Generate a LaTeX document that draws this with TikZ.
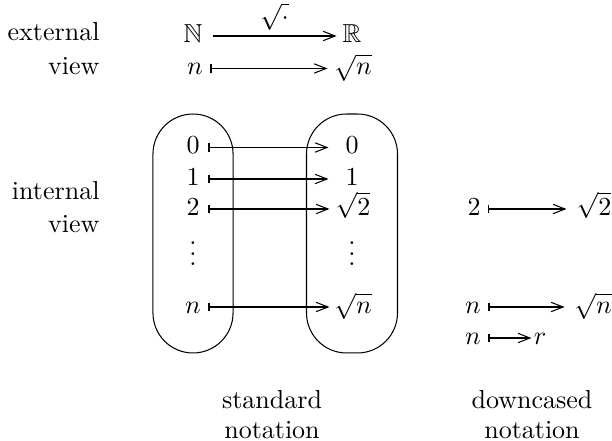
\documentclass[tikz,border=0pt]{standalone}
\usepackage{amssymb}
\usetikzlibrary{arrows.meta}
\begin{document}
\begin{tikzpicture}[x=0.3846pt,y=-0.3846pt,
  tip/.tip={Straight Barb[length=4.6pt,width=3.6pt]},
  mn/.style={inner sep=0pt,text height=7pt,text depth=2pt},
  lft/.style={mn,minimum width=11.5pt},
  rgt/.style={mn,minimum width=17.7pt},
  lbl/.style={inner sep=0pt},
  bubble/.style={draw,rounded corners=15.4pt,inner sep=0pt},
  fn/.style={-tip},
  mp/.style={{Bar[width=3.4pt]}-tip}]
\useasboundingbox (0,0) rectangle (612,441);
% left labels
\node[lbl,anchor=base east] (ext1) at (100,41) {external};
\node[lbl,anchor=base east] (ext2) at (100,74.5) {view};
\node[lbl,anchor=base east] (int1) at (100,200) {internal};
\node[lbl,anchor=base east] (int2) at (100,233) {view};
% external view
\node[mn,minimum width=14.6pt] (N) at (193,36) {$\mathbb{N}$};
\node[mn,minimum width=11.5pt] (R) at (352,36) {$\mathbb{R}$};
\draw[fn] (N.east) -- node[above=2pt,inner sep=0pt] (sq) {$\sqrt{\cdot}$} (R.west);
\node[mn,minimum width=11.5pt] (en) at (195,68.5) {$n$};
\node[mn,minimum width=19.2pt] (esn) at (353,68.5) {$\sqrt{n}$};
\draw[mp] (en.east) -- (esn.west);
% bubbles
\node[bubble,minimum width=30.8pt,minimum height=91.9pt] (dom) at (193,233.5) {};
\node[bubble,minimum width=35pt,minimum height=91.9pt] (cod) at (352,233.5) {};
% internal rows
\node[lft] (l0) at (193,147.5) {$0$};
\node[rgt] (r0) at (352,147.5) {$0$};
\node[lft] (l1) at (193,179) {$1$};
\node[rgt] (r1) at (352,179) {$1$};
\node[lft] (l2) at (193,209) {$2$};
\node[rgt] (r2) at (353,209) {$\sqrt{2}$};
\node[inner sep=0pt] (ld) at (193,246) {$\vdots$};
\node[inner sep=0pt] (rd) at (352,246) {$\vdots$};
\node[lft] (ln) at (193,307) {$n$};
\node[rgt] (rn) at (353,307) {$\sqrt{n}$};
\draw[mp] (l0.east) -- (r0.west);
\draw[mp] (l1.east) -- (r1.west);
\draw[mp] (l2.east) -- (r2.west);
\draw[mp] (ln.east) -- (rn.west);
% downcased
\node[mn,minimum width=10pt] (d2) at (474,209) {$2$};
\node[mn,minimum width=20.8pt] (ds2) at (594,209) {$\sqrt{2}$};
\draw[mp] (d2.east) -- (ds2.west);
\node[mn,minimum width=11.5pt] (dn) at (473,307) {$n$};
\node[mn,minimum width=21.5pt] (dsn) at (593,307) {$\sqrt{n}$};
\draw[mp] (dn.east) -- (dsn.west);
\node[mn,minimum width=11.5pt] (dn2) at (473,338) {$n$};
\node[mn,minimum width=6.2pt] (dr) at (540,338) {$r$};
\draw[mp] (dn2.east) -- (dr.west);
% bottom labels
\node[lbl,anchor=base] (st1) at (272,408) {standard};
\node[lbl,anchor=base] (st2) at (272,438) {notation};
\node[lbl,anchor=base] (dc1) at (532,408) {downcased};
\node[lbl,anchor=base] (dc2) at (532,438) {notation};
\end{tikzpicture}
\end{document}
